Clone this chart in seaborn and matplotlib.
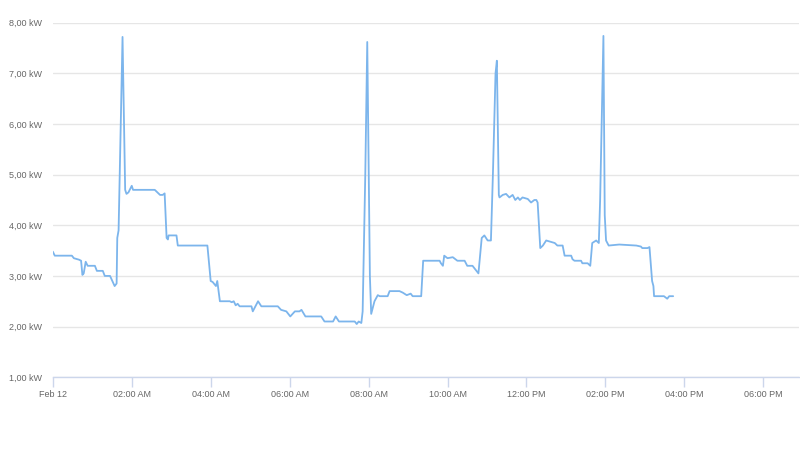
import pandas as pd
import seaborn as sns
import matplotlib.pyplot as plt

# power readings, minutes after midnight (Feb 12) and kW
minutes = [0, 3, 29, 32, 40, 43, 45, 47, 50, 53, 64, 67, 76, 79, 87, 94, 97, 98, 100,
           106, 110, 112, 115, 120, 122, 155, 163, 167, 170, 173, 175, 176, 188, 190,
           235, 240, 243, 248, 250, 254, 269, 272, 275, 278, 281, 284, 302, 304, 312,
           317, 342, 347, 355, 361, 368, 375, 378, 384, 408, 413, 426, 430, 435, 459,
           462, 465, 469, 471, 475, 478, 482, 484, 489, 494, 497, 509, 512, 527, 532,
           538, 544, 547, 560, 563, 588, 590, 593, 595, 600, 608, 615, 626, 630, 638,
           644, 647, 652, 656, 661, 666, 669, 673, 675, 678, 679, 684, 689, 694, 699,
           703, 707, 710, 714, 722, 727, 732, 735, 737, 741, 745, 750, 755, 763, 767,
           775, 778, 788, 790, 793, 803, 805, 813, 817, 820, 826, 830, 832, 837, 839,
           841, 845, 861, 887, 894, 896, 904, 907, 911, 913, 914, 929, 934, 937, 943]
kw = [3.48, 3.40, 3.40, 3.35, 3.32, 3.30, 3.02, 3.05, 3.28, 3.20, 3.20, 3.10, 3.10, 3.00,
      3.00, 2.80, 2.85, 3.75, 3.90, 7.72, 4.70, 4.62, 4.65, 4.78, 4.70, 4.70, 4.60, 4.60,
      4.63, 3.75, 3.72, 3.80, 3.80, 3.60, 3.60, 2.90, 2.88, 2.80, 2.90, 2.50, 2.50, 2.48,
      2.50, 2.42, 2.45, 2.40, 2.40, 2.30, 2.50, 2.40, 2.40, 2.33, 2.30, 2.20, 2.30, 2.30,
      2.33, 2.20, 2.20, 2.10, 2.10, 2.20, 2.10, 2.10, 2.05, 2.10, 2.07, 2.30, 5.00, 7.62,
      3.00, 2.25, 2.50, 2.62, 2.60, 2.60, 2.70, 2.70, 2.67, 2.62, 2.65, 2.60, 2.60, 3.30,
      3.30, 3.25, 3.20, 3.40, 3.35, 3.37, 3.30, 3.30, 3.20, 3.20, 3.10, 3.05, 3.75, 3.80,
      3.70, 3.70, 5.00, 7.00, 7.25, 4.60, 4.55, 4.60, 4.62, 4.55, 4.60, 4.50, 4.55, 4.50,
      4.55, 4.52, 4.45, 4.50, 4.50, 4.45, 3.55, 3.60, 3.70, 3.68, 3.65, 3.60, 3.60, 3.40,
      3.40, 3.33, 3.30, 3.30, 3.25, 3.25, 3.20, 3.65, 3.70, 3.65, 4.50, 7.74, 4.20, 3.70,
      3.60, 3.62, 3.60, 3.58, 3.55, 3.55, 3.57, 2.90, 2.80, 2.60, 2.60, 2.55, 2.60, 2.60]

tick_hours = [0, 2, 4, 6, 8, 10, 12, 14, 16, 18]
tick_labels = ["Feb 12", "02:00 AM", "04:00 AM", "06:00 AM", "08:00 AM", "10:00 AM",
               "12:00 PM", "02:00 PM", "04:00 PM", "06:00 PM"]
y_ticks = [1, 2, 3, 4, 5, 6, 7, 8]
y_labels = ["1,00 kW", "2,00 kW", "3,00 kW", "4,00 kW", "5,00 kW", "6,00 kW", "7,00 kW", "8,00 kW"]

df = pd.DataFrame({"hour": [m / 60 for m in minutes], "kw": kw})

sns.set_style("white")
plt.rcParams["font.family"] = ["Liberation Sans", "DejaVu Sans"]

fig = plt.figure(figsize=(8, 4.55), dpi=100)
ax = fig.add_axes([0.066, 0.171, 0.933, 0.779])

sns.lineplot(data=df, x="hour", y="kw", ax=ax, color="#7cb5ec", linewidth=1.3)

ax.set_xlim(0, 18.91)
ax.set_ylim(1, 8)
ax.set_xticks(tick_hours)
ax.set_xticklabels(tick_labels)
ax.set_yticks(y_ticks)
ax.set_yticklabels(y_labels)
ax.set_xlabel("")
ax.set_ylabel("")

ax.grid(axis="y", color="#e6e6e6", linewidth=1)
ax.set_axisbelow(True)
for s in ["top", "right", "left"]:
    ax.spines[s].set_visible(False)
ax.spines["bottom"].set_color("#ccd6eb")
ax.spines["bottom"].set_linewidth(1)

ax.tick_params(axis="x", length=7, width=1, color="#ccd6eb", labelsize=6.5,
               labelcolor="#666666", pad=2, direction="out", bottom=True)
ax.tick_params(axis="y", length=0, labelsize=6.5, labelcolor="#666666", pad=8)

fig.savefig("out.png", dpi=100)
